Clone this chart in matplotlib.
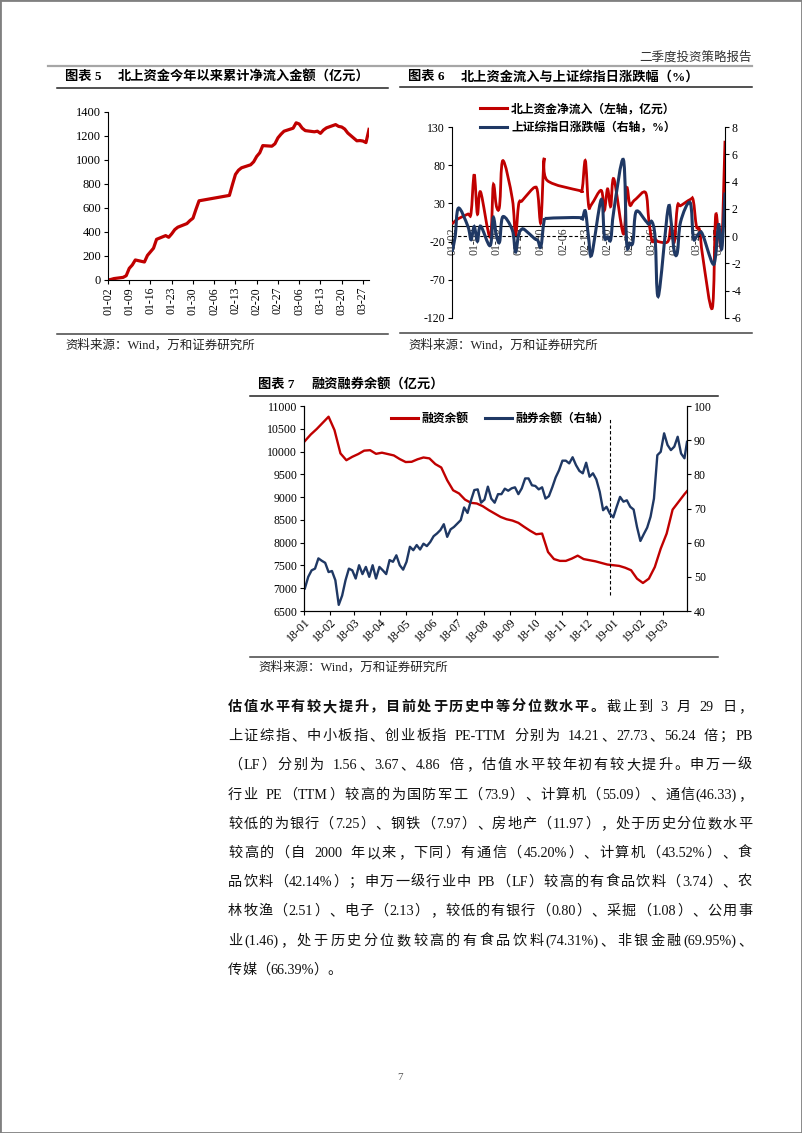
import numpy as np
import pandas as pd
import matplotlib
matplotlib.use('Agg')
import matplotlib.pyplot as plt
import matplotlib.dates as mdates
from matplotlib.path import Path
from matplotlib.patches import PathPatch, Rectangle
from matplotlib.lines import Line2D

plt.rcParams['font.family'] = ['Liberation Serif', 'Noto Sans CJK SC']
plt.rcParams['axes.unicode_minus'] = False
plt.rcParams['axes.linewidth'] = 0.8

RED = '#C00000'
NAVY = '#1F3864'

# ---- 图表5 / 图表6 : 2019 trading days
trade_days = ['01-02', '01-03', '01-04', '01-07', '01-08', '01-09', '01-10', '01-11',
              '01-14', '01-15', '01-16', '01-17', '01-18', '01-21', '01-22', '01-23',
              '01-24', '01-25', '01-28', '01-29', '01-30', '01-31', '02-01', '02-11',
              '02-12', '02-13', '02-14', '02-15', '02-18', '02-19', '02-20', '02-21',
              '02-22', '02-25', '02-26', '02-27', '02-28', '03-01', '03-04', '03-05',
              '03-06', '03-07', '03-08', '03-11', '03-12', '03-13', '03-14', '03-15',
              '03-18', '03-19', '03-20', '03-21', '03-22', '03-25', '03-26', '03-27',
              '03-28', '03-29']

# 北上资金今年以来累计净流入 (亿元)
north_cum = [0, 5, 12, 22, 36, 97, 125, 167,
             150, 205, 235, 265, 339, 370, 356, 385,
             420, 440, 470, 495, 515, 590, 660, 705,
             795, 880, 915, 935, 960, 985, 1030, 1060,
             1120, 1115, 1135, 1185, 1215, 1240, 1265, 1310,
             1300, 1265, 1245, 1235, 1240, 1222, 1250, 1268,
             1295, 1280, 1275, 1258, 1225, 1160, 1162, 1158,
             1145, 1255]

# 北上资金净流入 (左轴, 亿元)
north_daily = [3, 7, 10, 16, 17, 68, 16, 45,
               -14, 54, 26, 27, 86, 36, -12, 29,
               33, 38, 51, 44, 5, 88, 60, 47,
               48, 86, 28, 29, 47, 21, 49, 26,
               62, -10, 50, 28, 32, 36, 44, 8,
               -19, -17, -20, -20, 0, -21, 26, 27,
               35, 34, 0, -5, -40, -107, 12, -10,
               -20, 112]

# 上证综指日涨跌幅 (右轴, %)
sh_pct = [-1.15, -0.04, 2.05, 0.72, -0.26, 0.71, -0.38, 0.74,
          -0.70, 1.36, 0.03, -0.42, 1.42, 0.45, -1.17, 0.13,
          0.51, 0.45, -0.18, -0.30, -0.78, 1.10, 1.30, 1.36,
          1.20, 1.84, -0.04, -1.37, 2.68, -0.05, -0.05, -0.25,
          1.91, 5.60, -0.47, -0.52, -0.44, 1.80, 1.12, 0.88,
          1.05, -0.12, -4.40, 1.93, 1.10, -1.09, -1.20, 1.04,
          2.47, -0.10, -0.04, 0.25, 0.09, -1.97, -1.51, 0.85,
          -0.92, 3.20]

# ---- 图表7 : 融资余额 (亿元, weekly from 2018-01-02) and 融券余额 (亿元, every 4 days)
fin_balance = [10230, 10375, 10495, 10630, 10765, 10470, 9960, 9810, 9885, 9945,
               10020, 10030, 9950, 9975, 9945, 9915, 9835, 9770, 9775, 9830,
               9870, 9850, 9725, 9650, 9370, 9150, 9080, 8945, 8875, 8860,
               8800, 8715, 8640, 8565, 8515, 8485, 8435, 8345, 8260, 8185,
               8200, 7795, 7640, 7600, 7600, 7650, 7715, 7640, 7615, 7590,
               7555, 7520, 7505, 7490, 7450, 7395, 7210, 7115, 7210, 7465,
               7870, 8200, 8725, 8895, 9065, 9130]
sec_balance = [46.6, 50.0, 51.9, 52.4, 55.4, 54.7, 54.1, 51.4, 51.7, 49.0,
               41.8, 44.5, 49.0, 52.4, 51.9, 49.5, 53.4, 50.8, 52.9, 50.0,
               53.4, 49.5, 52.9, 51.9, 50.8, 54.9, 54.4, 56.3, 53.4, 52.1,
               54.4, 58.8, 57.8, 59.3, 58.0, 59.7, 59.0, 60.2, 61.9, 62.7,
               63.7, 65.4, 61.7, 63.9, 64.6, 65.6, 66.6, 70.3, 68.7, 72.3,
               75.4, 75.6, 71.7, 72.6, 76.4, 72.9, 71.7, 74.2, 74.2, 75.8,
               75.2, 75.9, 76.2, 74.2, 75.9, 78.8, 78.8, 76.8, 76.6, 75.6,
               76.2, 72.9, 73.6, 76.2, 79.1, 81.2, 84.0, 84.0, 83.2, 85.0,
               82.7, 81.0, 80.3, 83.4, 79.3, 80.3, 78.5, 74.9, 69.5, 70.5,
               68.5, 67.4, 70.5, 73.4, 72.0, 72.4, 70.5, 69.7, 64.6, 60.5,
               62.5, 64.4, 67.6, 72.9, 85.6, 86.6, 92.0, 88.6, 87.1, 88.1,
               91.0, 86.1, 84.7, 89.5]
split_date = '2018-12-28'

body_lines = [
    [('估值水平有较大提升，目前处于历史中等分位数水平。', True), ('截止到 3 月 29 日，', False)],
    [('上证综指、中小板指、创业板指 PE-TTM 分别为 14.21、27.73、56.24 倍；PB', False)],
    [('（LF）分别为 1.56、3.67、4.86 倍，估值水平较年初有较大提升。申万一级', False)],
    [('行业 PE（TTM）较高的为国防军工（73.9）、计算机（55.09）、通信(46.33)，', False)],
    [('较低的为银行（7.25）、钢铁（7.97）、房地产（11.97），处于历史分位数水平', False)],
    [('较高的（自 2000 年以来，下同）有通信（45.20%）、计算机（43.52%）、食', False)],
    [('品饮料（42.14%）；申万一级行业中 PB（LF）较高的有食品饮料（3.74）、农', False)],
    [('林牧渔（2.51）、电子（2.13），较低的有银行（0.80）、采掘（1.08）、公用事', False)],
    [('业(1.46)，处于历史分位数较高的有食品饮料(74.31%)、非银金融(69.95%)、', False)],
    [('传媒（66.39%）。', False)],
]

W, H = 802, 1133
fig = plt.figure(figsize=(W / 100, H / 100), dpi=100)


def fx(x):
    return x / W


def fy(y):
    return 1 - y / H


def box(l, t, r, b):
    return [fx(l), fy(b), (r - l) / W, (b - t) / H]


def hline(y, x0, x1, color='black', lw=1.0):
    fig.add_artist(Line2D([fx(x0), fx(x1)], [fy(y), fy(y)], color=color, lw=lw))


def smooth_path(x, y):
    # Excel-like smoothed line (Catmull-Rom as cubic bezier)
    pts = np.column_stack([x, y]).astype(float)
    n = len(pts)
    verts = [pts[0]]
    codes = [Path.MOVETO]
    for i in range(n - 1):
        p0 = pts[i - 1] if i > 0 else pts[i]
        p3 = pts[i + 2] if i + 2 < n else pts[i + 1]
        c1 = pts[i] + (pts[i + 1] - p0) / 6
        c2 = pts[i + 1] - (p3 - pts[i]) / 6
        verts += [c1, c2, pts[i + 1]]
        codes += [Path.CURVE4] * 3
    return Path(verts, codes)


def chart_frame(title_no, title, x0, x1, ytitle, yline, ybot, ysrc):
    fig.text(fx(x0 + 8), fy(ytitle), '图表 ' + title_no, fontsize=9.5, weight='bold', va='center')
    fig.text(fx(x0 + 61), fy(ytitle), title, fontsize=9.5, weight='bold', va='center')
    hline(yline, x0, x1, '#222222', 1.1)
    hline(ybot, x0, x1, '#444444', 1.1)
    fig.text(fx(x0 + 8), fy(ysrc), '资料来源：Wind，万和证券研究所', fontsize=9, va='center', color='#222222')


# page frame and header
fig.add_artist(Rectangle((0, 0), 1, 1, transform=fig.transFigure, fill=False, ec='#808080', lw=2))
fig.text(fx(752), fy(57), '二季度投资策略报告', fontsize=9, ha='right', va='center', color='#333333')
hline(66, 48, 752, '#A6A6A6', 1.6)
fig.text(fx(400), fy(1077), '7', fontsize=8, ha='center', va='center', color='#555555')

days19 = pd.to_datetime(['2019-' + d for d in trade_days])
ticks19 = pd.date_range('2019-01-02', '2019-03-29', freq='7D')

# ---------------- 图表5
chart_frame('5', '北上资金今年以来累计净流入金额（亿元）', 57, 388, 77, 88, 334, 345)
ax5 = fig.add_axes(box(108, 112, 369, 280))
ax5.plot(days19, north_cum, color=RED, lw=2.3, solid_joinstyle='round')
ax5.set_xlim(pd.Timestamp('2019-01-02'), pd.Timestamp('2019-03-29'))
ax5.set_ylim(0, 1400)
ax5.set_yticks(range(0, 1401, 200))
ax5.set_xticks(ticks19)
ax5.xaxis.set_major_formatter(mdates.DateFormatter('%m-%d'))
ax5.tick_params(axis='x', labelrotation=90, labelsize=8.5, length=3, width=0.8, pad=2)
ax5.tick_params(axis='y', labelsize=9, length=3, width=0.8, pad=2)
for s in ['top', 'right']:
    ax5.spines[s].set_visible(False)

# ---------------- 图表6
chart_frame('6', '北上资金流入与上证综指日涨跌幅（%）', 400, 752, 77, 87, 333, 345)
ax6 = fig.add_axes(box(452, 127, 725, 318))
ax6b = ax6.twinx()
xnum = mdates.date2num(days19)
ax6.add_patch(PathPatch(smooth_path(xnum, north_daily), fill=False, ec=RED, lw=2.0, zorder=3))
ax6b.add_patch(PathPatch(smooth_path(xnum, sh_pct), fill=False, ec=NAVY, lw=2.2, zorder=3))
ax6.set_xlim(mdates.date2num(pd.Timestamp('2019-01-02')), mdates.date2num(pd.Timestamp('2019-03-29')))
ax6.set_ylim(-120, 130)
ax6.set_yticks([-120, -70, -20, 30, 80, 130])
ax6b.set_ylim(-6, 8)
ax6b.set_yticks(range(-6, 9, 2))
ax6b.axhline(0, color='black', lw=0.8, ls=(0, (3, 2)), zorder=1)
ax6.set_xticks(mdates.date2num(ticks19))
ax6.xaxis.set_major_formatter(mdates.DateFormatter('%m-%d'))
ax6.spines['bottom'].set_position(('data', 0))
ax6.tick_params(axis='x', labelrotation=90, labelsize=8.5, length=0, pad=1, labelcolor='#333333')
ax6.tick_params(axis='y', labelsize=8.5, length=3, width=0.8, pad=2)
ax6b.tick_params(axis='y', labelsize=8.5, length=3, width=0.8, pad=2)
for s in ['top', 'right']:
    ax6.spines[s].set_visible(False)
for s in ['top', 'left', 'bottom']:
    ax6b.spines[s].set_visible(False)
fig.legend([Line2D([], [], color=RED, lw=2.2), Line2D([], [], color=NAVY, lw=2.2)],
           ['北上资金净流入（左轴，亿元）', '上证综指日涨跌幅（右轴，%）'],
           loc='center', bbox_to_anchor=(fx(578), fy(118.5)), frameon=False,
           prop=dict(weight='bold', size=8.5), handlelength=2.3, handletextpad=0.3,
           labelspacing=0.55, borderpad=0)

# ---------------- 图表7
chart_frame('7', '融资融券余额（亿元）', 250, 718, 385, 396, 657, 667)
ax7 = fig.add_axes(box(304, 406, 687, 611))
ax7b = ax7.twinx()
fin_dates = pd.date_range('2018-01-02', periods=65, freq='7D').append(pd.DatetimeIndex(['2019-03-29']))
sec_dates = pd.date_range('2018-01-02', periods=113, freq='4D').append(pd.DatetimeIndex(['2019-03-29']))
ax7.plot(fin_dates, fin_balance, color=RED, lw=1.7)
ax7b.plot(sec_dates, sec_balance, color=NAVY, lw=1.7)
ax7.set_xlim(pd.Timestamp('2018-01-01'), pd.Timestamp('2019-03-29'))
ax7.set_ylim(6500, 11000)
ax7.set_yticks(range(6500, 11001, 500))
ax7b.set_ylim(40, 100)
ax7b.set_yticks(range(40, 101, 10))
ax7.axvline(pd.Timestamp(split_date), ymin=0.078, ymax=0.935, color='black', lw=0.8, ls=(0, (3, 2)))
ax7.set_xticks(pd.date_range('2018-01-01', '2019-03-01', freq='MS'))
ax7.xaxis.set_major_formatter(mdates.DateFormatter('%y-%m'))
ax7.tick_params(axis='x', labelsize=8.5, length=3, width=0.8, pad=1)
for lbl in ax7.get_xticklabels():
    lbl.set_rotation(45)
    lbl.set_ha('right')
    lbl.set_rotation_mode('anchor')
ax7.tick_params(axis='y', labelsize=8.5, length=3, width=0.8, pad=2)
ax7b.tick_params(axis='y', labelsize=8.5, length=3, width=0.8, pad=2)
ax7.spines['top'].set_visible(False)
ax7b.spines['top'].set_visible(False)
fig.legend([Line2D([], [], color=RED, lw=2.2), Line2D([], [], color=NAVY, lw=2.2)],
           ['融资余额', '融券余额（右轴）'], ncol=2,
           loc='center', bbox_to_anchor=(fx(500), fy(419)), frameon=False,
           prop=dict(weight='bold', size=8.5), handlelength=2.3, handletextpad=0.3,
           columnspacing=1.4, borderpad=0)

# ---------------- body paragraph (justified, token by token)
renderer = fig.canvas.get_renderer()
BODY = 10.2
EM = BODY * 100 / 72


def is_cjk(ch):
    return ord(ch) >= 0x2E80


def tokens_of(segments):
    toks = []
    for text, bold in segments:
        run = ''
        for ch in text:
            if ch == ' ' or is_cjk(ch):
                if run:
                    toks.append(('lat', run, bold))
                    run = ''
                toks.append(('sp' if ch == ' ' else 'cjk', ch, bold))
            else:
                run += ch
        if run:
            toks.append(('lat', run, bold))
    return toks


def token_width(tok):
    kind, s, bold = tok
    if kind == 'cjk':
        return EM
    if kind == 'sp':
        return 0.25 * EM
    t = fig.text(0, 0, s, fontsize=BODY, family='Liberation Serif', weight='bold' if bold else 'normal')
    w = t.get_window_extent(renderer).width
    t.remove()
    return w - 0.06 * EM


def draw_line(segments, yc, x0=228, x1=752, justify=True):
    toks = tokens_of(segments)
    widths = [token_width(t) for t in toks]
    weights = [2.5 if t[0] == 'sp' else 1 for t in toks]
    weights[-1] = 0
    extra = (x1 - x0) - sum(widths)
    unit = extra / sum(weights) if justify else 0
    yb = fy(yc + 5)
    x = x0
    for (kind, s, bold), w, wt in zip(toks, widths, weights):
        kw = dict(fontsize=BODY, va='baseline', color='#111111', weight='bold' if bold else 'normal')
        if kind == 'cjk':
            if s in '，。、；：）':
                fig.text(fx(x + 0.02 * EM), yb, s, ha='left', family='Noto Sans CJK SC', **kw)
            elif s == '（':
                fig.text(fx(x + 0.98 * EM), yb, s, ha='right', family='Noto Sans CJK SC', **kw)
            else:
                fig.text(fx(x + 0.5 * EM), yb, s, ha='center', family='Noto Sans CJK SC', **kw)
        elif kind == 'lat':
            fig.text(fx(x - 0.02 * EM), yb, s, ha='left', family='Liberation Serif', **kw)
        x += w + wt * unit


line_y = [706, 735, 764, 794, 823, 852, 881, 910, 940, 969]
for i, (segs, yc) in enumerate(zip(body_lines, line_y)):
    draw_line(segs, yc, justify=(i < len(body_lines) - 1))

fig.savefig('out.png', dpi=100)
